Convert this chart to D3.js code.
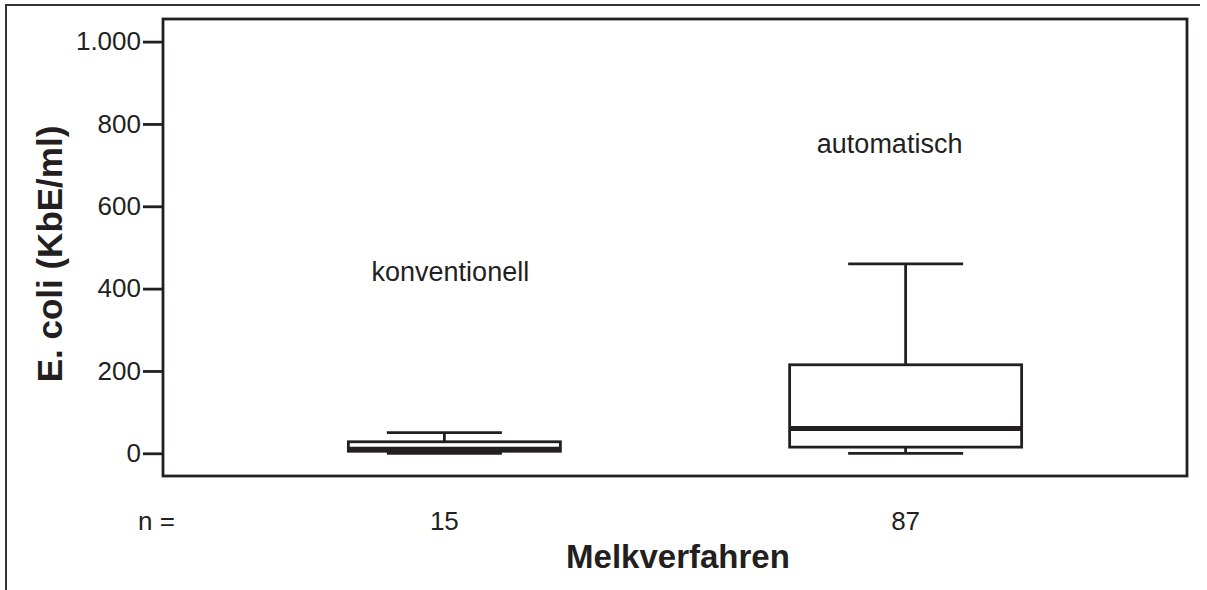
<!DOCTYPE html>
<html>
<head>
<meta charset="utf-8">
<script src="https://cdn.jsdelivr.net/npm/d3@7"></script>
<style>
  html, body { margin: 0; padding: 0; background: #fff; }
  svg { display: block; }
  text { font-family: "Liberation Sans", Arial, sans-serif; fill: #231f20; }
</style>
</head>
<body>
<svg id="chart" width="1207" height="590"></svg>
<script>
// Milking method groups and their box-plot statistics (E. coli, KbE/ml)
const categories  = ["konventionell", "automatisch"];
const sampleSizes = [15, 87];
const whiskerLow  = [0, 0];
const boxLow      = [5, 15];
const medians     = [10, 60];
const boxHigh     = [28, 215];
const whiskerHigh = [50, 460];
const labelValues = [418, 729];   // height of the group names inside the plot
const yTicks      = [0, 200, 400, 600, 800, 1000];

const ink = "#231f20";
const lw = 2.8;
const svg = d3.select("#chart");

const plot = { left: 163, right: 1187, top: 19, bottom: 476 };

const x = d3.scalePoint()
  .domain(categories)
  .range([plot.left, plot.right])
  .padding(0.61);

const y = d3.scaleLinear()
  .domain([0, 1000])
  .range([453.3, 41.6]);

// box extents to the left/right of each group's whisker line
const boxSpan = [[-96, 116], [-116, 116]];
const capWidth = 115;
const labelShift = [6, -16];

// outer frame (top and left edges)
svg.append("path")
  .attr("d", `M6,590 V5 H1200`)
  .attr("fill", "none")
  .attr("stroke", "#333")
  .attr("stroke-width", 2);

// plot frame
svg.append("rect")
  .attr("x", plot.left).attr("y", plot.top)
  .attr("width", plot.right - plot.left)
  .attr("height", plot.bottom - plot.top)
  .attr("fill", "none")
  .attr("stroke", ink)
  .attr("stroke-width", lw);

// y axis ticks and labels
const fmt = v => d3.format(",")(v).replace(/,/g, ".");
const yAxis = d3.axisLeft(y)
  .tickValues(yTicks)
  .tickFormat(fmt)
  .tickSize(20)
  .tickPadding(2);
const ya = svg.append("g")
  .attr("transform", `translate(${plot.left},0)`)
  .call(yAxis);
ya.select(".domain").remove();
ya.selectAll(".tick line").attr("stroke", ink).attr("stroke-width", lw);
ya.selectAll(".tick text")
  .attr("fill", ink)
  .style("font-size", "26px")
  .style("font-family", "'Liberation Sans', Arial, sans-serif");

// box plots
const groups = categories.map((c, i) => ({
  c, i, lo: whiskerLow[i], q1: boxLow[i], med: medians[i], q3: boxHigh[i], hi: whiskerHigh[i]
}));

const g = svg.append("g").selectAll("g").data(groups).join("g");

// whisker stems
g.append("line")
  .attr("x1", d => x(d.c)).attr("x2", d => x(d.c))
  .attr("y1", d => y(d.hi)).attr("y2", d => y(d.q3))
  .attr("stroke", ink).attr("stroke-width", lw);
g.append("line")
  .attr("x1", d => x(d.c)).attr("x2", d => x(d.c))
  .attr("y1", d => y(d.q1)).attr("y2", d => y(d.lo))
  .attr("stroke", ink).attr("stroke-width", lw);

// whisker caps
g.selectAll("line.cap")
  .data(d => [{c: d.c, v: d.hi}, {c: d.c, v: d.lo}])
  .join("line")
  .attr("class", "cap")
  .attr("x1", d => x(d.c) - capWidth / 2).attr("x2", d => x(d.c) + capWidth / 2)
  .attr("y1", d => y(d.v)).attr("y2", d => y(d.v))
  .attr("stroke", ink).attr("stroke-width", lw);

// boxes
g.append("rect")
  .attr("x", d => x(d.c) + boxSpan[d.i][0])
  .attr("y", d => y(d.q3))
  .attr("width", d => boxSpan[d.i][1] - boxSpan[d.i][0])
  .attr("height", d => y(d.q1) - y(d.q3))
  .attr("fill", "#fff")
  .attr("stroke", ink)
  .attr("stroke-width", lw);

// medians
g.append("line")
  .attr("x1", d => x(d.c) + boxSpan[d.i][0]).attr("x2", d => x(d.c) + boxSpan[d.i][1])
  .attr("y1", d => y(d.med)).attr("y2", d => y(d.med))
  .attr("stroke", ink).attr("stroke-width", 5);

// group names inside the plot
svg.append("g").selectAll("text")
  .data(categories)
  .join("text")
  .attr("x", (d, i) => x(d) + labelShift[i])
  .attr("y", (d, i) => y(labelValues[i]))
  .attr("text-anchor", "middle")
  .style("font-size", "27px")
  .text(d => d);

// sample sizes below the plot
svg.append("text")
  .attr("x", 138).attr("y", 530)
  .style("font-size", "26px")
  .text("n =");
svg.append("g").selectAll("text")
  .data(sampleSizes)
  .join("text")
  .attr("x", (d, i) => x(categories[i]))
  .attr("y", 530)
  .attr("text-anchor", "middle")
  .style("font-size", "26px")
  .text(d => d);

// axis titles
svg.append("text")
  .attr("x", 678)
  .attr("y", 568)
  .attr("text-anchor", "middle")
  .style("font-size", "33px")
  .style("font-weight", "bold")
  .text("Melkverfahren");

svg.append("text")
  .attr("transform", `translate(62,254) rotate(-90)`)
  .attr("text-anchor", "middle")
  .style("font-size", "35px")
  .style("font-weight", "bold")
  .text("E. coli (KbE/ml)");
</script>
</body>
</html>
